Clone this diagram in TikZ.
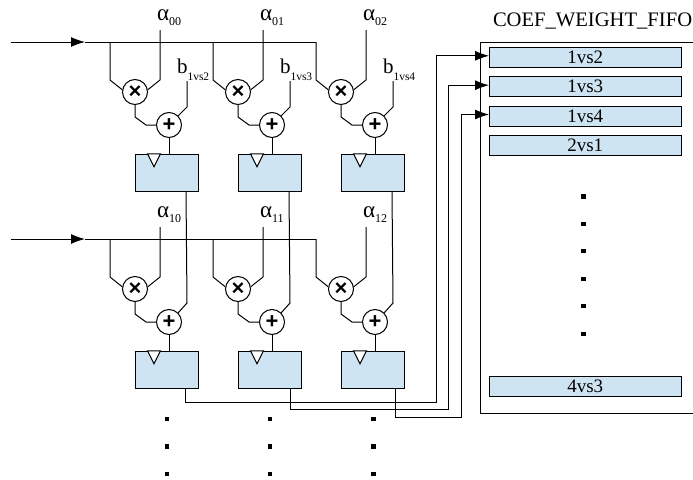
\documentclass[tikz,border=0pt]{standalone}
\usepackage{fontspec}
\setmainfont{Liberation Serif}
\newfontfamily\opfont{Liberation Sans}
\usepackage{tikz}
\usetikzlibrary{arrows.meta}
\definecolor{cellblue}{RGB}{207,228,243}
\newcommand{\alab}[1]{\fontsize{23}{23}\selectfont α\raisebox{-5pt}{\fontsize{12}{12}\selectfont #1}}
\newcommand{\blab}[1]{\fontsize{21}{21}\selectfont b\raisebox{-7pt}{\fontsize{11.5}{12}\selectfont #1}}

\begin{document}
\begin{tikzpicture}
  [x=1pt,y=-1pt,line width=1pt,
   sigarrow/.style={-{Latex[length=14pt,width=10pt]}},
   opnode/.style={circle,draw,fill=white,inner sep=0pt,minimum size=25pt,font=\opfont\bfseries\fontsize{22}{22}\selectfont},
   regnode/.style={draw,fill=cellblue,inner sep=0pt,minimum width=63pt,minimum height=37.5pt},
   cellnode/.style={draw,fill=cellblue,inner sep=0pt,minimum width=191.5pt,minimum height=20pt,font=\fontsize{19}{19}\selectfont},
   dotnode/.style={fill=black,inner sep=0pt,minimum size=4.5pt},
   textnode/.style={inner sep=0pt,anchor=base west}]
  \useasboundingbox (0,0) rectangle (693,479);

  % two rows of three columns
  \foreach \row/\dy in {0/0,1/197}{
    \coordinate (in\row) at (11,42+\dy);
    \coordinate (j\row) at (85,42+\dy);
    \coordinate (e\row) at (316,42+\dy);
    \draw[sigarrow] (in\row) -- (j\row);
    \draw (j\row) -- (e\row);
    \foreach \col/\dx in {0/0,1/103,2/206}{
      \node[opnode] (m\row\col) at (135+\dx,92+\dy) {×};
      \node[opnode] (s\row\col) at (169+\dx,125+\dy) {+};
      \node[regnode] (r\row\col) at (166.5+\dx,173+\dy) {};
      \node[textnode] (al\row\col) at (156.5+\dx,20+\dy) {\alab{\row\col}};
      \coordinate (t\row\col) at (110+\dx,42+\dy);
      \coordinate (c\row\col) at (160+\dx,30+\dy);

      \draw (t\row\col) -- ++(0,38) -- (m\row\col.170);
      \draw (c\row\col) -- ++(0,50) -- (m\row\col.10);
      \draw (m\row\col.south) -- ++(0,12) -- ++(11,8) -- (s\row\col.west);
      \draw (s\row\col.south) -- (s\row\col.south |- r\row\col.north);
      \draw[fill=white] ([xshift=13pt]r\row\col.north west) -- ++(13,0) -- ++(-6.5,13) -- cycle;
    }
  }

  % b inputs of the first row
  \foreach \col/\dx/\name in {0/0/1vs2,1/103/1vs3,2/206/1vs4}{
    \node[textnode] (b\col) at (176.5+\dx,73) {\blab{\name}};
    \coordinate (bt\col) at (187+\dx,81);
    \draw (bt\col) -- ++(0,26) -- (s0\col.45);
    % first row register into second row adder
    \coordinate (q\col) at (186+\dx,192);
    \draw (q\col) -- (187+\dx,303) -- (s1\col.45);
  }

  % fifo
  \coordinate (f1) at (693,42);
  \coordinate (f2) at (480,42);
  \coordinate (f3) at (480,413);
  \coordinate (f4) at (693,413);
  \draw (f1) -- (f2) -- (f3) -- (f4);
  \node[textnode] (title) at (492.5,27) {\fontsize{20.6}{20}\selectfont COEF\_WEIGHT\_FIFO};
  \node[cellnode] (c1) at (585.25,57.3) {1vs2};
  \node[cellnode] (c2) at (585.25,86.7) {1vs3};
  \node[cellnode] (c3) at (585.25,116) {1vs4};
  \node[cellnode] (c4) at (585.25,145.5) {2vs1};
  \node[cellnode] (c5) at (585.25,386) {4vs3};

  % second row registers into the fifo
  \foreach \col/\xo/\yo/\xr/\cell in {0/185/402/436/c1,1/290/409/448.5/c2,2/395/417/461/c3}{
    \coordinate (o\col) at (\xo,389);
    \coordinate (w\col) at (\xr,\yo);
    \draw[sigarrow] (o\col) |- (w\col) |- ([yshift=1.5pt]\cell.west);
  }

  % dots
  \foreach \dx in {167,270,373.5}
    \foreach \dy in {419,446.5,474}
      \node[dotnode] at (\dx,\dy) {};
  \foreach \dy in {196.5,224,251,279,306,334}
    \node[dotnode] at (583.7,\dy) {};
\end{tikzpicture}
\end{document}
